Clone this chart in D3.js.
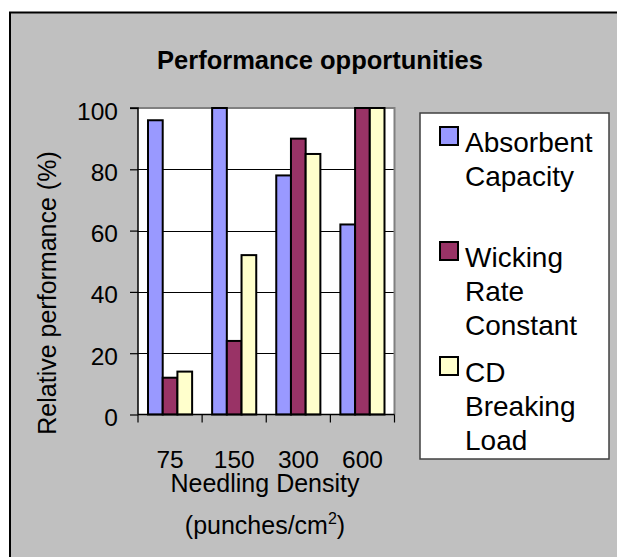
<!DOCTYPE html>
<html>
<head>
<meta charset="utf-8">
<script src="https://cdn.jsdelivr.net/npm/d3@7/dist/d3.min.js"></script>
<style>
  html, body { margin: 0; padding: 0; background: #ffffff; }
  svg { display: block; }
  text { font-family: "Liberation Sans", Arial, sans-serif; fill: #000; }
</style>
</head>
<body>
<svg id="chart" width="617" height="557"></svg>
<script>
// ---- Data ----
const categories = ["75", "150", "300", "600"];
const seriesNames = ["Absorbent Capacity", "Wicking Rate Constant", "CD Breaking Load"];
const absorbentCapacity = [96, 100, 78, 62];
const wickingRateConstant = [12, 24, 90, 100];
const cdBreakingLoad = [14, 52, 85, 100];
const yTicks = [0, 20, 40, 60, 80, 100];
const legendLines = [["Absorbent", "Capacity"], ["Wicking", "Rate", "Constant"], ["CD", "Breaking", "Load"]];
const seriesColors = ["#9999FF", "#993366", "#FFFFCC"];

const seriesValues = [absorbentCapacity, wickingRateConstant, cdBreakingLoad];
const table = categories.map((c, i) => ({
  cat: c,
  values: seriesValues.map((s, j) => ({ key: seriesNames[j], value: s[i], idx: j }))
}));

// ---- Layout ----
const svg = d3.select("#chart");
const W = 617, H = 557;
const plot = { left: 138, right: 394.5, top: 108, bottom: 414.5 };

// chart area background
svg.append("rect").attr("x", 10).attr("y", 12.5).attr("width", W).attr("height", H)
  .attr("fill", "#C0C0C0");
svg.append("line").attr("x1", 10).attr("x2", 10).attr("y1", 12).attr("y2", H)
  .attr("stroke", "#000").attr("stroke-width", 2);
svg.append("line").attr("x1", 9).attr("x2", W).attr("y1", 12.5).attr("y2", 12.5)
  .attr("stroke", "#000").attr("stroke-width", 2);

// Title
svg.append("text").attr("x", 320).attr("y", 69).attr("text-anchor", "middle")
  .style("font-size", "25.5px").style("font-weight", "bold")
  .text("Performance opportunities");

// Scales
const x0 = d3.scaleBand().domain(categories).range([plot.left, plot.right]).padding(0);
const x1 = d3.scaleBand().domain(d3.range(seriesNames.length)).range([0, x0.bandwidth()])
  .paddingInner(0).paddingOuter(0.68);
const y = d3.scaleLinear().domain([0, 100]).range([plot.bottom, plot.top]);

// Plot area
svg.append("rect").attr("x", plot.left).attr("y", plot.top)
  .attr("width", plot.right - plot.left).attr("height", plot.bottom - plot.top)
  .attr("fill", "#fff");

// gridlines
svg.append("g").selectAll("line").data(yTicks.filter(t => t > 0 && t < 100)).join("line")
  .attr("x1", plot.left).attr("x2", plot.right)
  .attr("y1", d => Math.round(y(d)) + 0.5).attr("y2", d => Math.round(y(d)) + 0.5)
  .attr("stroke", "#000").attr("stroke-width", 1);

// plot border top/right gray
svg.append("path")
  .attr("d", `M${plot.left},${plot.top} H${plot.right} V${plot.bottom}`)
  .attr("fill", "none").attr("stroke", "#808080").attr("stroke-width", 2);

// Bars
const groups = svg.append("g").selectAll("g").data(table).join("g")
  .attr("transform", d => `translate(${x0(d.cat)},0)`);
groups.selectAll("rect").data(d => d.values).join("rect")
  .attr("x", d => x1(d.idx))
  .attr("width", x1.bandwidth())
  .attr("y", d => y(d.value))
  .attr("height", d => y(0) - y(d.value))
  .attr("fill", d => seriesColors[d.idx])
  .attr("stroke", "#000").attr("stroke-width", 2);

// Y axis
const yAxis = d3.axisLeft(y).tickValues(yTicks).tickSize(8).tickFormat(d3.format("d"));
const yg = svg.append("g").attr("transform", `translate(${plot.left},0)`).call(yAxis);
yg.select(".domain").attr("stroke", "#000").attr("stroke-width", 1.5)
  .attr("d", `M-8,${plot.top}H0V${plot.bottom}`);
yg.selectAll(".tick line").attr("stroke", "#000").attr("stroke-width", 1.2);
yg.selectAll(".tick text").attr("x", -20).attr("dy", "0.45em")
  .style("font-size", "24.5px").style("font-family", "'Liberation Sans', Arial, sans-serif")
  .attr("fill", "#000");

// X axis
const xAxis = d3.axisBottom(x0).tickSize(0).tickFormat(d => d);
const xg = svg.append("g").attr("transform", `translate(0,${plot.bottom})`).call(xAxis);
xg.select(".domain").attr("stroke", "#000").attr("stroke-width", 1.5)
  .attr("d", `M${plot.left},0H${plot.right}`);
xg.selectAll(".tick text").attr("y", 0).attr("dy", 0)
  .attr("transform", "translate(0,53.5)")
  .style("font-size", "24.5px").style("font-family", "'Liberation Sans', Arial, sans-serif")
  .attr("fill", "#000");
// category boundary ticks
const bounds = categories.map(c => x0(c)).concat([plot.right]);
xg.append("g").selectAll("line").data(bounds).join("line")
  .attr("x1", d => d).attr("x2", d => d).attr("y1", 0).attr("y2", 8)
  .attr("stroke", "#000").attr("stroke-width", 1.2);

// Axis titles
svg.append("text").attr("x", 265).attr("y", 492).attr("text-anchor", "middle")
  .style("font-size", "25px").text("Needling Density");
const sub = svg.append("text").attr("x", 265).attr("y", 534).attr("text-anchor", "middle")
  .style("font-size", "25px");
sub.append("tspan").text("(punches/cm");
sub.append("tspan").attr("dy", -10).style("font-size", "16px").text("2");
sub.append("tspan").attr("dy", 10).text(")");

svg.append("text").attr("transform", "translate(56,293) rotate(-90)")
  .attr("text-anchor", "middle").style("font-size", "25px")
  .text("Relative performance (%)");

// Legend
const legend = { x: 420, y: 113, w: 189, h: 346 };
svg.append("rect").attr("x", legend.x).attr("y", legend.y)
  .attr("width", legend.w).attr("height", legend.h)
  .attr("fill", "#fff").attr("stroke", "#404040").attr("stroke-width", 1.5);
const entryBase = [152, 267, 382];
const le = svg.append("g").selectAll("g").data(legendLines).join("g");
le.append("rect")
  .attr("x", 440).attr("y", (d, i) => entryBase[i] - 25)
  .attr("width", 18).attr("height", 18)
  .attr("fill", (d, i) => seriesColors[i]).attr("stroke", "#000").attr("stroke-width", 2);
le.each(function(lines, i) {
  const t = d3.select(this).append("text").attr("x", 465).attr("y", entryBase[i])
    .style("font-size", "28px");
  lines.forEach((ln, k) => {
    t.append("tspan").attr("x", 465).attr("y", entryBase[i] + k * 34).text(ln);
  });
});
</script>
</body>
</html>
